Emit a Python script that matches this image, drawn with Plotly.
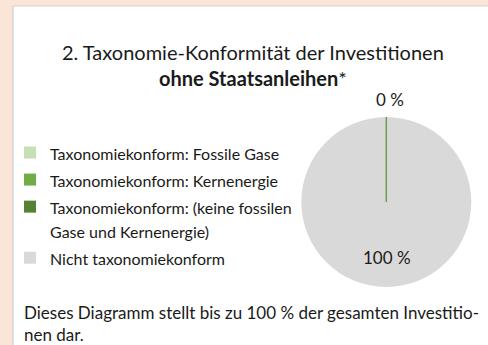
import math
import plotly.graph_objects as go

W, H = 488, 345

# Portfolio split (percent of investments, excluding sovereign bonds)
categories = [
    "Taxonomiekonform: Fossile Gase",
    "Taxonomiekonform: Kernenergie",
    "Taxonomiekonform: (keine fossilen<br>Gase und Kernenergie)",
    "Nicht taxonomiekonform",
]
shares = [0, 0, 0, 100]
colors = ["#c5e0b4", "#70ad47", "#548235", "#d9d9d9"]
edge_color = "#6e9d4e"

title_line1 = "2. Taxonomie-Konformität der Investitionen"
title_line2 = "<b>ohne Staatsanleihen</b>*"
caption = "Dieses Diagramm stellt bis zu 100 % der gesamten Investitio-<br>nen dar."

FONT = "Lato, 'Open Sans', sans-serif"
LEGEND_TEXT_PX = 16   # glyph size of legend entries
LEGEND_ROW_FONT = 18.5  # drives the row pitch of the legend

# pie geometry in pixels
cx, cy, rad = 386.3, 202.0, 85.0


def px_x(x):
    return x / W


def px_y(y):
    return 1 - y / H


def legend_label(text):
    return "<br>".join(
        f'<span style="font-size:{LEGEND_TEXT_PX}px">{part}</span>'
        for part in text.split("<br>")
    )


dom_x = [px_x(cx - rad), px_x(cx + rad)]
dom_y = [px_y(cy + rad), px_y(cy - rad)]

fig = go.Figure(go.Pie(
    labels=[legend_label(c) for c in categories], values=shares,
    marker=dict(colors=colors, line=dict(width=0)),
    domain=dict(x=dom_x, y=dom_y),
    textinfo="none", sort=False, direction="clockwise", rotation=0,
    hovertemplate="%{label}: %{value} %<extra></extra>",
))

# boundary of the (zero-width) taxonomy-compliant slices
compliant = sum(shares[:3])
ang = math.radians(90 - compliant / sum(shares) * 360)
x_end = cx + rad * math.cos(ang)
y_end = cy - rad * math.sin(ang)

shapes = [
    dict(type="rect", xref="paper", yref="paper", layer="below",
         x0=px_x(13), x1=1.01, y0=-0.01, y1=px_y(6),
         fillcolor="white", line=dict(width=0)),
    dict(type="line", xref="paper", yref="paper", layer="below",
         x0=px_x(13), x1=px_x(13), y0=-0.01, y1=px_y(6),
         line=dict(color="#d3cdd5", width=1.2)),
    dict(type="line", xref="paper", yref="paper", layer="below",
         x0=px_x(13), x1=1.01, y0=px_y(6), y1=px_y(6),
         line=dict(color="#d3cdd5", width=1.2)),
    dict(type="line", xref="paper", yref="paper", layer="above",
         x0=px_x(cx), y0=px_y(cy), x1=px_x(x_end), y1=px_y(y_end),
         line=dict(color=edge_color, width=1.5)),
]

annotations = [
    dict(text=title_line1 + "<br>" + title_line2, x=px_x(253), y=px_y(65),
         xref="paper", yref="paper", xanchor="center", yanchor="middle",
         showarrow=False, font=dict(family=FONT, size=20, color="#1a1a1a")),
    dict(text=f"{compliant} %", x=px_x(390), y=px_y(100),
         xref="paper", yref="paper", xanchor="center", yanchor="middle",
         showarrow=False, font=dict(family=FONT, size=17, color="#1a1a1a")),
    dict(text=f"{shares[3]} %", x=px_x(387), y=px_y(257),
         xref="paper", yref="paper", xanchor="center", yanchor="middle",
         showarrow=False, font=dict(family=FONT, size=17, color="#1a1a1a")),
    dict(text=caption, x=px_x(22), y=px_y(323), align="left",
         xref="paper", yref="paper", xanchor="left", yanchor="middle",
         showarrow=False, font=dict(family=FONT, size=17, color="#1a1a1a")),
]

fig.update_layout(
    width=W, height=H,
    margin=dict(l=0, r=0, t=0, b=0),
    paper_bgcolor="#fbe5d6",
    plot_bgcolor="white",
    shapes=shapes,
    annotations=annotations,
    legend=dict(
        x=px_x(10), y=px_y(134), xanchor="left", yanchor="top",
        valign="top",
        bgcolor="rgba(0,0,0,0)",
        font=dict(family=FONT, size=LEGEND_ROW_FONT, color="#1a1a1a"),
    ),
    font=dict(family=FONT),
)

fig.write_html("out.html")
